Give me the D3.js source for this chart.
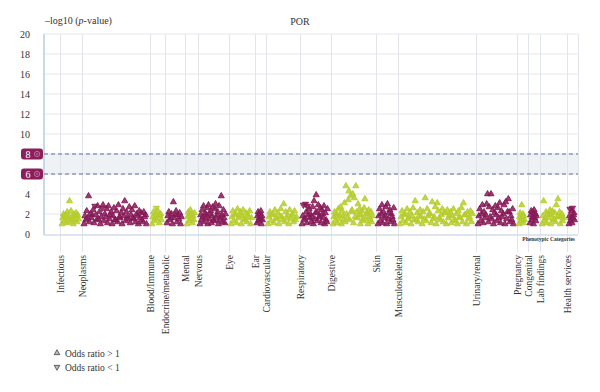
<!DOCTYPE html>
<html><head><meta charset="utf-8">
<script src="https://cdn.jsdelivr.net/npm/d3@7"></script>
<style>
html,body{margin:0;padding:0;background:#fff;}
svg{display:block;font-family:"Liberation Serif","Times New Roman",serif;}
</style></head>
<body><svg id="c" width="600" height="392"></svg>
<script>
// ---- data ----
const categories = ["Infectious","Neoplasms","Blood/Immune","Endocrine/metabolic","Mental","Nervous","Eye","Ear","Cardiovascular","Respiratory","Digestive","Skin","Musculoskeletal","Urinary/renal","Pregnancy","Congenital","Lab findings","Health services"];
const catSizes = [22,68,15,20,13,31,26,11,34,31,45,22,78,41,11,12,27,11];
// signed -log10(p): negative sign = odds ratio < 1
const infectious = [1.0,1.6,2.0,1.3,1.8,1.9,1.1,2.2,1.5,1.7,3.3,1.2,2.3,1.7,1.4,1.0,2.0,1.4,1.8,2.1,1.2,1.9,1.5];
const neoplasms = [1.0,1.8,1.4,2.3,1.6,3.8,1.2,2.0,1.6,1.9,2.4,1.1,-2.8,1.9,1.4,2.8,1.5,2.2,1.0,1.7,-2.6,2.9,1.3,2.0,1.7,2.5,1.1,2.8,1.5,1.9,2.2,1.0,1.8,2.6,1.4,1.4,2.3,1.2,2.9,1.7,1.6,2.1,1.0,2.5,1.8,3.3,1.3,2.2,1.7,1.5,2.7,1.1,1.9,2.4,1.6,1.5,2.8,1.2,2.0,1.8,1.0,2.3,1.6,2.1,1.4,1.2,2.2,1.7,1.9,1.0];
const bloodImmune = [1.0,1.7,2.2,1.3,1.6,2.0,-2.6,1.5,2.3,1.8,1.1,1.8,2.0,1.4];
const endocrine = [1.1,1.8,2.2,1.4,1.6,2.0,1.0,3.2,1.6,1.9,2.3,1.2,1.9,1.5,2.1,1.0,1.7];
const mental = [1.0,1.7,2.2,1.3,1.9,2.4,1.5,2.0,1.1,1.8,1.4,2.1];
const nervous = [1.0,1.9,1.4,2.4,1.7,2.8,1.2,2.1,1.6,1.9,2.6,1.0,2.9,1.5,2.0,2.3,1.1,1.8,2.7,1.4,1.3,2.5,3.0,1.6,1.9,2.2,1.0,2.8,1.4,1.7,3.8,1.9,1.2,2.4,1.6,1.1,2.0];
const eye = [1.0,1.7,2.3,1.3,1.9,2.0,1.1,2.5,1.6,1.8,2.2,1.0,1.8,2.4,1.5,1.4,2.1,1.2,1.9,1.7,2.3,1.0,1.6];
const ear = [1.1,1.8,2.2,1.3,1.6,2.0,1.5,2.3,1.0,1.8,1.4];
const cardiovascular = [1.0,1.7,2.2,1.3,1.9,2.0,1.1,2.4,1.6,1.5,2.1,1.0,1.8,2.5,1.7,1.4,3.0,1.2,2.2,1.6,1.9,1.0,2.4,1.5,1.8,2.0,1.2,2.3,1.4,1.7];
const respiratory = [1.0,1.8,-2.9,1.4,1.6,-3.0,2.2,1.1,-2.8,1.9,2.5,1.6,2.0,1.2,1.7,2.7,1.0,3.3,1.5,2.1,3.9,2.2,1.3,2.9,1.7,1.8,2.6,1.1,2.4,2.0,1.6,2.8,1.0,2.1,1.4,1.2,2.5];
const digestive = [1.0,1.7,2.2,1.3,1.9,2.0,1.1,2.5,1.5,1.8,2.7,1.0,2.3,1.8,1.4,3.1,1.2,4.8,2.0,1.6,3.4,4.3,1.4,3.8,2.2,2.4,4.0,1.1,3.6,1.7,4.8,2.2,1.6,3.0,1.9,2.5,1.0,1.9,2.3,1.5,1.3,2.6,3.5,1.5,2.0,2.1,1.0,2.4,1.7,1.4,2.2,1.2,1.8];
const skin = [1.0,1.8,2.5,1.3,2.0,2.9,1.1,2.2,1.6,1.8,2.7,1.0,3.0,1.5,2.1,2.4,1.2,2.0,1.7,1.4,2.6,1.0];
const musculoskeletal = [1.0,1.7,2.3,1.3,1.9,2.0,1.1,2.5,1.5,1.7,2.2,1.0,1.8,2.6,1.4,3.3,1.4,2.1,1.2,1.8,2.4,1.7,1.0,2.2,1.5,3.6,1.3,2.5,1.8,2.0,2.0,1.1,3.2,1.5,1.7,2.7,1.0,3.1,2.3,1.6,1.4,1.9,2.5,1.2,2.1,2.1,1.0,2.4,1.6,1.8,2.2,1.1,1.8,2.5,1.4,1.3,2.0,1.0,2.3,1.7,1.6,2.6,1.2,3.1,1.9,1.9,1.0,2.2,1.5,1.7,2.3,1.2,2.0];
const urinary = [1.0,1.8,2.5,1.3,2.0,2.9,1.1,2.2,1.6,1.9,3.0,4.0,1.2,2.7,1.7,4.0,1.5,2.4,1.0,2.1,2.8,1.9,1.3,2.6,1.6,3.1,1.1,2.3,1.7,2.0,2.9,1.0,3.2,1.5,2.2,3.5,2.2,1.2,1.8,1.4,2.5,1.0];
const pregnancy = [1.0,1.7,2.1,1.3,1.6,2.9,1.5,2.0,1.1,1.8,1.4];
const congenital = [1.1,1.9,2.3,1.4,1.7,2.2,1.0,2.4,1.6,2.0,1.3,1.8];
const labFindings = [1.0,1.8,3.3,1.3,1.6,2.2,1.1,2.0,1.6,1.9,2.4,1.0,1.9,2.3,1.5,1.4,2.1,1.2,2.9,1.7,3.5,1.7,2.2,1.0,1.8,2.0,1.3,1.6];
const healthServices = [1.0,1.8,-2.5,1.3,1.6,2.3,1.1,-2.6,1.6,1.9,2.1,1.4];
const seriesValues = [infectious,neoplasms,bloodImmune,endocrine,mental,nervous,eye,ear,cardiovascular,respiratory,digestive,skin,musculoskeletal,urinary,pregnancy,congenital,labFindings,healthServices];
const yTicks = [0,2,4,6,8,10,12,14,16,18,20];
const thresholds = [8,6];
const legendItems = ["Odds ratio > 1","Odds ratio < 1"];

// ---- layout ----
const svg = d3.select("#c");
const green = "#b6cc2c", purple = "#861a57";
const plotL = 44, plotR = 578, plotT = 34, plotB = 234;
const total = d3.sum(catSizes);
const starts = d3.cumsum([0].concat(catSizes)).slice(0, catSizes.length);
const x = d3.scaleLinear().domain([0,total]).range([60,578]);
const y = d3.scaleLinear().domain([0,20]).range([plotB,plotT]);

// threshold band
svg.append("rect").attr("x",plotL).attr("width",plotR-plotL)
  .attr("y",y(8)).attr("height",y(6)-y(8)).attr("fill","#eef2f5");

// horizontal grid
svg.append("g").selectAll("line").data(yTicks.filter(d=>d>0)).join("line")
  .attr("x1",plotL).attr("x2",plotR).attr("y1",d=>y(d)).attr("y2",d=>y(d))
  .attr("stroke","#e3e7ec").attr("stroke-width",1);
// vertical grid at category starts
svg.append("g").selectAll("line").data(starts).join("line")
  .attr("x1",d=>Math.round(x(d))+0.5).attr("x2",d=>Math.round(x(d))+0.5)
  .attr("y1",plotT).attr("y2",252).attr("stroke","#e1e5ea").attr("stroke-width",1);
svg.append("line").attr("x1",plotR+0.5).attr("x2",plotR+0.5).attr("y1",plotT).attr("y2",plotB)
  .attr("stroke","#e1e5ea");

// y axis
const yAxis = d3.axisLeft(y).tickValues(yTicks).tickSize(0).tickPadding(14);
const ga = svg.append("g").attr("transform",`translate(${plotL},0)`).call(yAxis);
ga.select(".domain").remove();
ga.selectAll("text").attr("font-family","Liberation Serif").attr("font-size",10).attr("fill","#333")
  .text(d=> (d===6||d===8) ? "" : d);
svg.append("line").attr("x1",plotL).attr("x2",plotL).attr("y1",plotT).attr("y2",plotB+1)
  .attr("stroke","#c9d9ea").attr("stroke-width",2);
svg.append("line").attr("x1",plotL).attr("x2",plotR).attr("y1",plotB+1).attr("y2",plotB+1)
  .attr("stroke","#d3dde8").attr("stroke-width",1.5);

// threshold lines and labels
thresholds.forEach(t=>{
  svg.append("line").attr("x1",plotL).attr("x2",plotR).attr("y1",y(t)).attr("y2",y(t))
    .attr("stroke","#5d6f9c").attr("stroke-width",1.2).attr("stroke-dasharray","4,3");
  svg.append("rect").attr("x",21).attr("y",y(t)-5.5).attr("width",22).attr("height",11)
    .attr("rx",3).attr("fill","#8a1f5c");
  svg.append("text").attr("x",28).attr("y",y(t)+3.5).attr("text-anchor","middle")
    .attr("font-size",10).attr("fill","#fff").text(t);
  svg.append("circle").attr("cx",37).attr("cy",y(t)).attr("r",2.6)
    .attr("fill","none").attr("stroke","#c88aa9").attr("stroke-width",0.8);
  svg.append("circle").attr("cx",37).attr("cy",y(t)).attr("r",0.8).attr("fill","#c88aa9");
});

// points
const pts = [];
seriesValues.forEach((vals,ci)=>{
  const n = vals.length, s = starts[ci], w = catSizes[ci];
  vals.forEach((v,j)=>{
    pts.push({cx: x(s + 2 + (n>1 ? j/(n-1) : 0.5)*(w-5.5)), v: Math.abs(v), down: v<0, c: ci%2===0?green:purple});
  });
});
const up = d3.symbol().type(d3.symbolTriangle).size(16);
svg.append("g").selectAll("path").data(pts).join("path")
  .attr("transform",d=>`translate(${d.cx},${y(d.v)})${d.down?" rotate(180)":""}`)
  .attr("d",up())
  .attr("fill",d=>d.c).attr("fill-opacity",0.85)
  .attr("stroke",d=>d.c).attr("stroke-width",0.9);

// category labels
const gx = svg.append("g");
gx.selectAll("text").data(categories).join("text")
  .attr("transform",(d,i)=>`translate(${Math.round(x(starts[i]))+0.5},255) rotate(-90)`)
  .attr("text-anchor","end").attr("dy","0.33em")
  .attr("font-size",9.5).attr("fill","#333").text(d=>d);

// titles
svg.append("text").attr("x",45).attr("y",24).attr("font-size",10).attr("fill","#333")
  .html('–log10 (<tspan font-style="italic">p</tspan>-value)');
svg.append("text").attr("x",300).attr("y",25).attr("text-anchor","middle").attr("font-size",10)
  .attr("fill","#333").text("POR");
svg.append("text").attr("x",575).attr("y",241).attr("text-anchor","end").attr("font-size",5.5)
  .attr("font-weight","bold").attr("fill","#333").text("Phenotypic Categories");

// legend
legendItems.forEach((t,i)=>{
  const ly = 353 + i*14;
  svg.append("path").attr("transform",`translate(57,${ly})${i===1?" rotate(180)":""}`)
    .attr("d",d3.symbol().type(d3.symbolTriangle).size(14)())
    .attr("fill","#bbb").attr("stroke","#444").attr("stroke-width",0.8);
  svg.append("text").attr("x",65).attr("y",ly+3.5).attr("font-size",9.5).attr("fill","#333").text(t);
});
</script></body></html>
